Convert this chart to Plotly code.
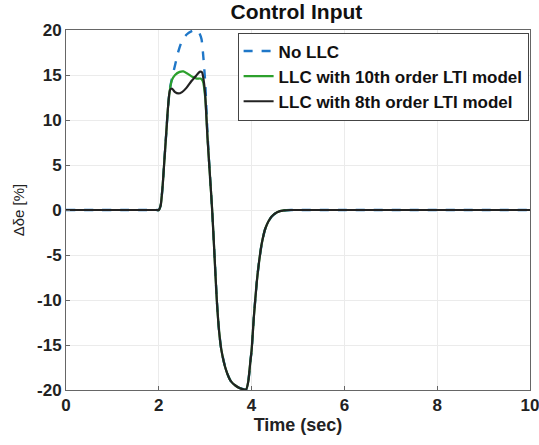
import plotly.graph_objects as go

# time samples and values
t_black = [0, 1.9, 1.96, 2.0, 2.04, 2.08, 2.12, 2.16, 2.2, 2.24, 2.28, 2.35, 2.42, 2.5, 2.6, 2.7, 2.8, 2.88, 2.93,
           2.97, 3.0, 3.05, 3.1, 3.15, 3.2, 3.25, 3.3, 3.35, 3.45, 3.55, 3.65, 3.75, 3.88, 3.93, 3.97, 4.0, 4.05,
           4.11, 4.16, 4.22, 4.3, 4.43, 4.55, 4.7, 4.85, 4.95, 5.05, 10]
v_black = [0, 0, 0, 0, 0.5, 2.5, 5.5, 8.5, 11.5, 13.3, 13.5, 13.1, 12.95, 13.1, 13.6, 14.3, 14.9, 15.35, 15.3,
           14.3, 12.8, 8, 4, 0, -5, -10, -13.5, -15.6, -17.8, -19, -19.5, -19.8, -19.95, -19, -17, -15.6, -11.8,
           -8.1, -5.8, -3.7, -2.0, -0.74, -0.25, -0.05, 0, 0, 0, 0]

t_green = [0, 1.9, 1.96, 2.0, 2.04, 2.08, 2.12, 2.16, 2.2, 2.24, 2.28, 2.35, 2.45, 2.53, 2.62, 2.72, 2.82, 2.9,
           2.95, 3.0, 3.05, 3.1, 3.15, 3.2, 3.25, 3.3, 3.35, 3.45, 3.55, 3.65, 3.75, 3.88, 3.93, 3.97, 4.0, 4.05,
           4.11, 4.16, 4.22, 4.3, 4.43, 4.55, 4.7, 4.85, 4.95, 5.05, 10]
v_green = [0, 0, 0, 0, 0.5, 2.5, 5.5, 8.5, 11.5, 13.4, 14.4, 15.0, 15.35, 15.4, 15.15, 14.8, 14.6, 14.6,
           14.3, 12.5, 8, 4, 0, -5, -10, -13.5, -15.6, -17.8, -19, -19.5, -19.8, -19.95, -19, -17, -15.6, -11.8,
           -8.1, -5.8, -3.7, -2.0, -0.74, -0.25, -0.05, 0, 0, 0, 0]

t_blue = [0, 1.9, 1.96, 2.0, 2.04, 2.08, 2.12, 2.16, 2.2, 2.24, 2.3, 2.36, 2.42, 2.5, 2.6, 2.7, 2.8, 2.87, 2.92,
          2.96, 3.0, 3.05, 3.1, 3.15, 3.2, 3.25, 3.3, 3.35, 3.45, 3.55, 3.65, 3.75, 3.88, 3.93, 3.97, 4.0, 4.05,
          4.11, 4.16, 4.22, 4.3, 4.43, 4.55, 4.7, 4.85, 4.95, 5.05, 10]
v_blue = [0, 0, 0, 0, 0.5, 2.5, 5.5, 8.5, 11.5, 13.5, 15.0, 16.3, 17.6, 18.8, 19.5, 19.85, 20.0, 19.7, 19.0,
          17.0, 14.2, 8.5, 4, 0, -5, -10, -13.5, -15.6, -17.8, -19, -19.5, -19.8, -19.95, -19, -17, -15.6, -11.8,
          -8.1, -5.8, -3.7, -2.0, -0.74, -0.25, -0.05, 0, 0, 0, 0]

x_ticks = [0, 2, 4, 6, 8, 10]
y_ticks = [-20, -15, -10, -5, 0, 5, 10, 15, 20]

font_family = "Liberation Sans, Arial, sans-serif"

fig = go.Figure()
fig.add_trace(go.Scatter(x=t_blue, y=v_blue, mode="lines", name="<b>No LLC</b>",
                         line=dict(color="#1f77c8", width=2.4, dash="dash", shape="spline", smoothing=0.6)))
fig.add_trace(go.Scatter(x=t_green, y=v_green, mode="lines", name="<b>LLC with 10th order LTI model</b>",
                         line=dict(color="#2ca02c", width=2.2, shape="spline", smoothing=0.6)))
fig.add_trace(go.Scatter(x=t_black, y=v_black, mode="lines", name="<b>LLC with 8th order LTI model</b>",
                         line=dict(color="#222222", width=2.2, shape="spline", smoothing=0.6)))

fig.update_layout(
    width=539, height=445,
    margin=dict(l=66, r=9, t=30, b=55),
    paper_bgcolor="white", plot_bgcolor="white",
    font=dict(family=font_family, color="#222"),
    title=dict(text="<b>Control Input</b>", x=0.55, xanchor="center", y=0.973, yanchor="middle",
               font=dict(size=21, color="#111")),
    legend=dict(x=0.997, xanchor="right", y=0.993, yanchor="top",
                bordercolor="#444", borderwidth=1, bgcolor="white",
                font=dict(size=17, color="#111"), tracegroupgap=0, itemwidth=30,
                traceorder="normal"),
    showlegend=True,
)
fig.update_xaxes(range=[0, 10], tickvals=x_ticks, ticktext=[f"<b>{v}</b>" for v in x_ticks],
                 automargin=False, ticklabeloverflow="allow",
                 showgrid=True, gridcolor="#ebebeb", zeroline=False,
                 showline=True, linecolor="#666", linewidth=1, mirror=True,
                 ticks="inside", ticklen=4, tickcolor="#666",
                 tickfont=dict(size=17, color="#222"),
                 title=dict(text="<b>Time (sec)</b>", font=dict(size=18, color="#222"), standoff=2))
fig.update_yaxes(range=[-20, 20], tickvals=y_ticks, ticktext=[f"<b>{v}</b>" for v in y_ticks],
                 automargin=False, ticklabeloverflow="allow",
                 showgrid=True, gridcolor="#ebebeb", zeroline=False,
                 showline=True, linecolor="#666", linewidth=1, mirror=True,
                 ticks="inside", ticklen=4, tickcolor="#666",
                 tickfont=dict(size=17, color="#222"),
                 title=dict(text="Δδe [%]", font=dict(size=15, color="#222"), standoff=8))

fig.write_html("out.html")
